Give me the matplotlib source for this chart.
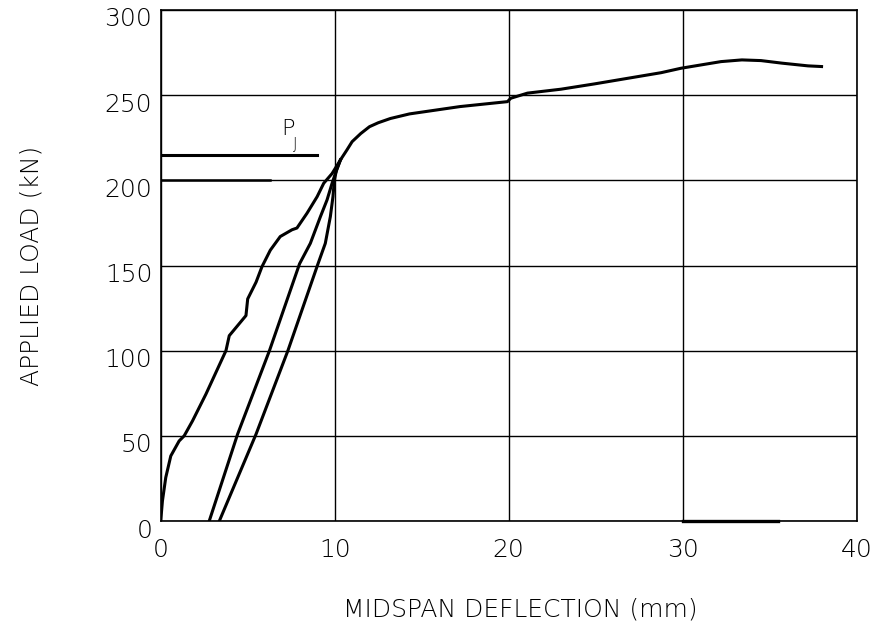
import matplotlib
matplotlib.use("Agg")
import matplotlib.pyplot as plt
import matplotlib.transforms as mtransforms

# initial loading branch (mm, kN)
load1_x = [0, 0.1, 0.29, 0.58, 1.06, 1.35, 1.83, 2.6, 3.75, 3.94, 4.9, 5.0, 5.48,
           5.82, 6.3, 6.87, 7.55, 7.83, 8.41, 8.99, 9.37, 9.85, 10.33]
load1_y = [0, 11.8, 25.5, 38.2, 47, 50, 58.8, 74.5, 100, 108.8, 120.6, 130.4, 140.2,
           149.3, 159, 167, 171, 172, 180.7, 190.4, 198.3, 204, 212]

# second cycle
load2_x = [2.79, 4.42, 6.25, 7.98, 8.6, 9.18, 9.56, 9.85, 10.04, 10.33]
load2_y = [0, 51, 100, 151, 163, 178.7, 188.5, 198.3, 204, 212]

# third cycle and envelope up to failure
load3_x = [3.37, 5.48, 7.31, 9.04, 9.46, 9.75, 9.9, 9.98, 10.1, 10.33, 10.7, 11.0,
           11.5, 12.0, 12.5, 13.2, 14.3, 17.2, 19.93, 20.12, 21.08, 23.0, 24.92,
           26.84, 28.76, 29.9, 32.2, 33.4, 34.5, 35.7, 37.2, 37.98]
load3_y = [0, 51, 100, 151, 163, 178.7, 190.4, 200, 206, 212, 217.8, 222.7,
           227.5, 231.5, 233.8, 236.3, 239, 243.3, 246.2, 248.2, 251.2, 253.5, 256.6,
           259.9, 263.2, 265.8, 269.7, 270.7, 270.3, 268.8, 267.2, 266.8]

pj_load = 215
pj_end = 8.97

x_ticks = [0, 10, 20, 30, 40]
y_ticks = [0, 50, 100, 150, 200, 250, 300]

plt.rcParams["font.family"] = ["DejaVu Sans"]
plt.rcParams["font.weight"] = "light"

fig = plt.figure(figsize=(8.76, 6.25), dpi=100)
ax = fig.add_axes([160.7 / 876, 1 - 521 / 625, (856.7 - 160.7) / 876, (521 - 10) / 625])

ax.set_xlim(0, 40)
ax.set_ylim(0, 300)
ax.set_xticks(x_ticks)
ax.set_yticks(y_ticks)
ax.grid(True, color="black", linewidth=1.0)
ax.set_axisbelow(True)
for s in ax.spines.values():
    s.set_linewidth(1.2)

ax.tick_params(length=0, labelsize=18)
ax.tick_params(axis="x", pad=12)
ax.tick_params(axis="y", pad=6)
offset = mtransforms.ScaledTranslation(0, -7 / 100, fig.dpi_scale_trans)
for lbl in ax.get_yticklabels():
    lbl.set_transform(lbl.get_transform() + offset)

lw = 2.2
ax.plot(load1_x, load1_y, color="black", linewidth=lw, solid_joinstyle="round")
ax.plot(load2_x, load2_y, color="black", linewidth=lw, solid_joinstyle="round")
ax.plot(load3_x, load3_y, color="black", linewidth=lw, solid_joinstyle="round")

# P_J reference line
ax.plot([0, pj_end], [pj_load, pj_load], color="black", linewidth=2.2)
ax.plot([0, 6.3], [200, 200], color="black", linewidth=1.8)
ax.plot([30, 35.5], [0, 0], color="black", linewidth=2.4, clip_on=False)
ax.text(6.95, 226.5, "P", fontsize=16, ha="left", va="baseline")
ax.text(7.6, 218.5, "J", fontsize=11, ha="left", va="baseline")

fig.text(32 / 876, 1 - 266 / 625, "APPLIED LOAD (kN)", rotation=90,
         ha="center", va="center", fontsize=18)
fig.text(520 / 876, 1 - 610 / 625, "MIDSPAN DEFLECTION (mm)",
         ha="center", va="center", fontsize=18)

fig.savefig("out.png", dpi=100)
